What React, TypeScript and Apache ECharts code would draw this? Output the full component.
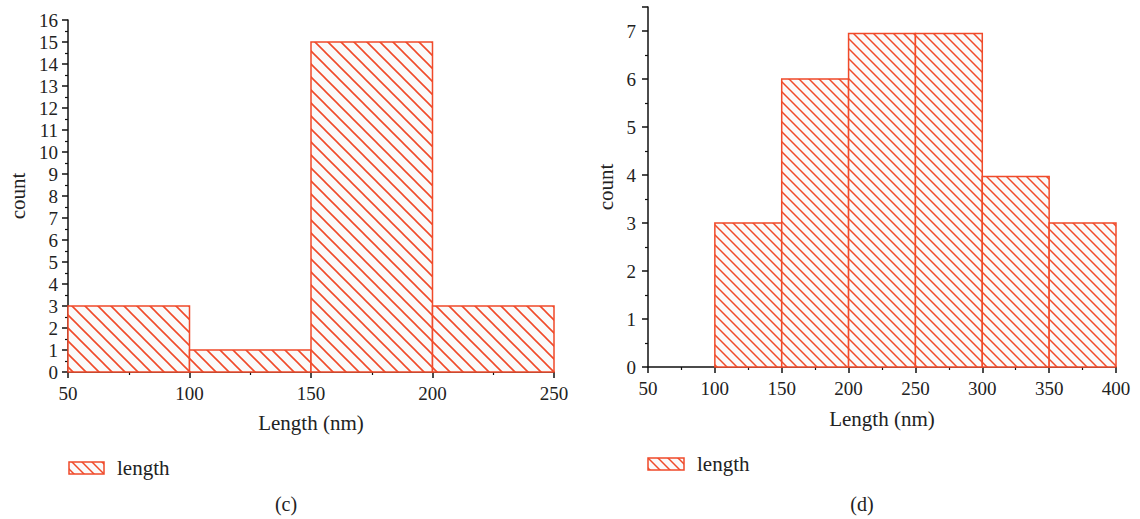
import React, { useEffect, useRef } from "react";
import * as echarts from "echarts";

// Left histogram (c)
const binsC: [number, number][] = [[50, 100], [100, 150], [150, 200], [200, 250]];
const countsC = [3, 1, 15, 3];
// Right histogram (d)
const binsD: [number, number][] = [[100, 150], [150, 200], [200, 250], [250, 300], [300, 350], [350, 400]];
const countsD = [3, 6, 6.95, 6.95, 3.97, 3];

const xTitle = "Length (nm)";
const yTitle = "count";
const legendLabel = "length";
const panelLabels = ["(c)", "(d)"];

const RED = "#f04a2a";
const FONT = "'Liberation Serif', 'DejaVu Serif', serif";

function makeHatch(s: number, lw: number) {
  const c = document.createElement("canvas");
  c.width = s;
  c.height = s;
  const ctx = c.getContext("2d")!;
  ctx.fillStyle = "#fafafa";
  ctx.fillRect(0, 0, s, s);
  ctx.strokeStyle = RED;
  ctx.lineWidth = lw;
  ctx.beginPath();
  ctx.moveTo(-2, -2); ctx.lineTo(s + 2, s + 2);
  ctx.moveTo(-2, s - 2); ctx.lineTo(2, s + 2);
  ctx.moveTo(s - 2, -2); ctx.lineTo(s + 2, 2);
  ctx.stroke();
  return c;
}

export default function App() {
  const ref = useRef<HTMLDivElement>(null);
  useEffect(() => {
    document.body.style.margin = "0";
    const chart = echarts.init(ref.current!, null, { renderer: "svg" });
    const hatchC = makeHatch(13, 1.6);
    const hatchD = makeHatch(10, 1.5);
    const patC = { image: hatchC, repeat: "repeat" } as any;
    const patD = { image: hatchD, repeat: "repeat" } as any;

    const axisCommon = {
      axisLine: { lineStyle: { color: "#111", width: 1.5 } },
      axisTick: { length: 6, lineStyle: { color: "#111", width: 1.5 } },
      minorTick: { show: true, splitNumber: 2, length: 3, lineStyle: { color: "#111", width: 1.2 } },
      splitLine: { show: false },
      axisLabel: { color: "#222", fontFamily: FONT, fontSize: 19 },
      nameTextStyle: { color: "#222", fontFamily: FONT, fontSize: 21 },
    };

    const mkSeries = (idx: number, bins: [number, number][], counts: number[], pat: any) => ({
      type: "custom",
      xAxisIndex: idx,
      yAxisIndex: idx,
      data: bins.map((b, i) => [b[0], b[1], counts[i]]),
      encode: { x: [0, 1], y: 2 },
      renderItem: (params: any, api: any) => {
        const p0 = api.coord([api.value(0), api.value(2)]);
        const p1 = api.coord([api.value(1), 0]);
        return {
          type: "rect",
          shape: { x: p0[0], y: p0[1], width: p1[0] - p0[0], height: p1[1] - p0[1] },
          style: { fill: pat, stroke: RED, lineWidth: 1.5 },
        };
      },
    });

    chart.setOption({
      animation: false,
      grid: [
        { left: 68, right: 586, top: 20, bottom: 147 },
        { left: 648, right: 24, top: 7, bottom: 152 },
      ],
      xAxis: [
        {
          ...axisCommon, gridIndex: 0, type: "value", min: 50, max: 250, interval: 50,
          name: xTitle, nameLocation: "middle", nameGap: 40,
          axisLabel: { ...axisCommon.axisLabel, margin: 12 },
        },
        {
          ...axisCommon, gridIndex: 1, type: "value", min: 50, max: 400, interval: 50,
          name: xTitle, nameLocation: "middle", nameGap: 41,
          axisLabel: { ...axisCommon.axisLabel, margin: 12 },
        },
      ],
      yAxis: [
        {
          ...axisCommon, gridIndex: 0, type: "value", min: 0, max: 16, interval: 1,
          name: yTitle, nameLocation: "middle", nameGap: 40,
          axisLabel: { ...axisCommon.axisLabel, margin: 10 },
        },
        {
          ...axisCommon, gridIndex: 1, type: "value", min: 0, max: 7.5, interval: 1,
          name: yTitle, nameLocation: "middle", nameGap: 32,
          axisLabel: { ...axisCommon.axisLabel, margin: 12, formatter: (v: number) => (v === 7.5 ? "" : String(v)) },
        },
      ],
      series: [mkSeries(0, binsC, countsC, patC), mkSeries(1, binsD, countsD, patD)],
      graphic: [
        { type: "rect", shape: { x: 69, y: 462, width: 35, height: 12 }, style: { fill: patD, stroke: RED, lineWidth: 1.5 } },
        { type: "text", x: 117, y: 468, style: { text: legendLabel, font: `21px ${FONT}`, fill: "#222", verticalAlign: "middle" } },
        { type: "rect", shape: { x: 648, y: 458, width: 36, height: 12 }, style: { fill: patD, stroke: RED, lineWidth: 1.5 } },
        { type: "text", x: 697, y: 464, style: { text: legendLabel, font: `21px ${FONT}`, fill: "#222", verticalAlign: "middle" } },
        { type: "text", x: 286, y: 504, style: { text: panelLabels[0], font: `20px ${FONT}`, fill: "#222", align: "center", verticalAlign: "middle" } },
        { type: "text", x: 862, y: 504, style: { text: panelLabels[1], font: `20px ${FONT}`, fill: "#222", align: "center", verticalAlign: "middle" } },
      ],
    });
    return () => chart.dispose();
  }, []);
  return <div ref={ref} style={{ width: 1140, height: 519 }} />;
}
